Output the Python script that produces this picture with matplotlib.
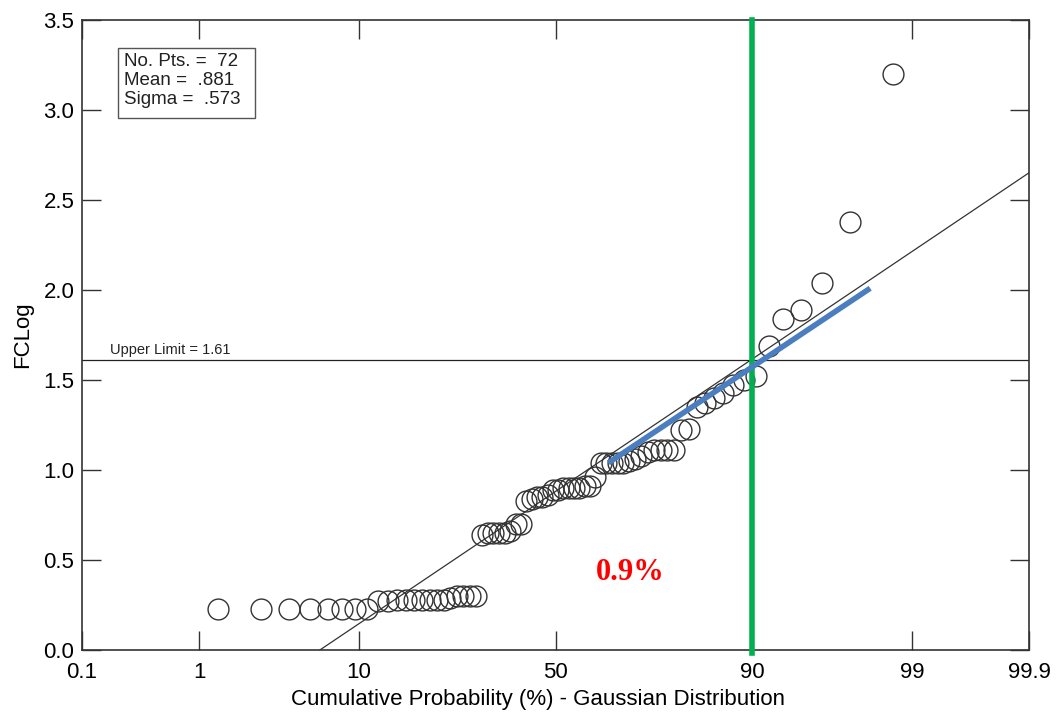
import numpy as np
import matplotlib
matplotlib.use("Agg")
import matplotlib.pyplot as plt
from matplotlib.patches import Rectangle
from statistics import NormalDist

# sorted FCLog values, 72 points
fclog = [0.23, 0.23, 0.23, 0.23, 0.23, 0.23, 0.23, 0.23,
         0.27, 0.27, 0.28, 0.28, 0.28, 0.28, 0.28, 0.28, 0.28, 0.29,
         0.30, 0.30, 0.30, 0.30,
         0.64, 0.65, 0.65, 0.65, 0.65, 0.66, 0.70, 0.70,
         0.83, 0.84, 0.85, 0.85, 0.86, 0.89, 0.89,
         0.90, 0.90, 0.90, 0.90, 0.91, 0.91, 0.96,
         1.04, 1.04, 1.04, 1.04, 1.04, 1.05, 1.06, 1.08, 1.10,
         1.11, 1.11, 1.11, 1.11, 1.22, 1.23,
         1.35, 1.37, 1.40, 1.43, 1.47, 1.50, 1.52,
         1.69, 1.84, 1.89, 2.04, 2.38, 3.20]

n_pts = 72
mean = 0.881
sigma = 0.573
upper_limit = 1.61
limit_pct = 90
blue_pct = [63.5, 98.0]
blue_val = [1.04, 2.01]
xticks = [0.1, 1, 10, 50, 90, 99, 99.9]
xticklabels = ['0.1', '1', '10', '50', '90', '99', '99.9']

nd = NormalDist()
_ppf = np.vectorize(lambda p: nd.inv_cdf(min(max(p / 100.0, 1e-9), 1 - 1e-9)), otypes=[float])
_cdf = np.vectorize(lambda z: nd.cdf(z) * 100.0, otypes=[float])

def fwd(p):
    return _ppf(np.asarray(p, dtype=float))

def inv(z):
    return _cdf(np.asarray(z, dtype=float))

# plotting positions i/(n+1)
ranks = np.arange(1, n_pts + 1)
prob = ranks / (n_pts + 1) * 100.0

plt.rcParams['font.family'] = ['Liberation Sans', 'DejaVu Sans']

fig = plt.figure(figsize=(10.58, 7.19), dpi=100)
ax = fig.add_axes([0.0775, 0.096, 0.8951, 0.876])
ax.set_xscale('function', functions=(fwd, inv))
ax.set_xlim(0.1, 99.9)
ax.set_ylim(0, 3.5)

# fitted gaussian line
zz = np.linspace(nd.inv_cdf(0.001), nd.inv_cdf(0.999), 50)
ax.plot(inv(zz), mean + sigma * zz, color='#333333', lw=0.9, zorder=2)

ax.plot(prob, fclog, 'o', mfc='none', mec='#333333', mew=1.0, ms=15, zorder=3)

ax.axhline(upper_limit, color='#222222', lw=0.9, zorder=2)
ax.text(0.0296, upper_limit + 0.035, 'Upper Limit = 1.61', fontsize=10.5, color='#222222',
        transform=ax.get_yaxis_transform())

ax.axvline(limit_pct, ymin=-0.005, ymax=1.0, color='#00B050', lw=4, zorder=4, clip_on=False)
ax.plot(blue_pct, blue_val, color='#4A7EC0', lw=4, solid_capstyle='butt', zorder=5)

ax.text(68.8, 0.433, '0.9%', color='red', fontsize=22, fontweight='bold',
        family=['Liberation Serif', 'DejaVu Serif'], ha='center', va='center')

# stats box
ax.add_patch(Rectangle((0.038, 0.8444), 0.1447, 0.1112, transform=ax.transAxes,
                       fc='white', ec='#555555', lw=1, zorder=6))
ax.text(0.0444, 0.948, 'No. Pts. =  72\nMean =  .881\nSigma =  .573', fontsize=13.5,
        linespacing=1.17, va='top', color='#222222', transform=ax.transAxes, zorder=7)

ax.set_xticks(xticks)
ax.set_xticklabels(xticklabels)
ax.xaxis.set_minor_locator(matplotlib.ticker.NullLocator())
ax.set_yticks(np.arange(0, 3.51, 0.5))
ax.set_yticklabels(['%.1f' % v for v in np.arange(0, 3.51, 0.5)])
ax.tick_params(direction='in', length=14, width=1, top=True, right=True,
               labelsize=16, color='#333333')
ax.tick_params(axis='x', pad=9)
ax.tick_params(axis='y', pad=5.5)
for s in ax.spines.values():
    s.set_color('#333333')
    s.set_linewidth(1.2)

ax.set_xlabel('Cumulative Probability (%) - Gaussian Distribution', fontsize=16, va='center')
ax.xaxis.set_label_coords(0.4815, -0.078)
ax.set_ylabel('FCLog', fontsize=16, va='center')
ax.yaxis.set_label_coords(-0.063, 0.5)

fig.savefig('out.png', dpi=100)
